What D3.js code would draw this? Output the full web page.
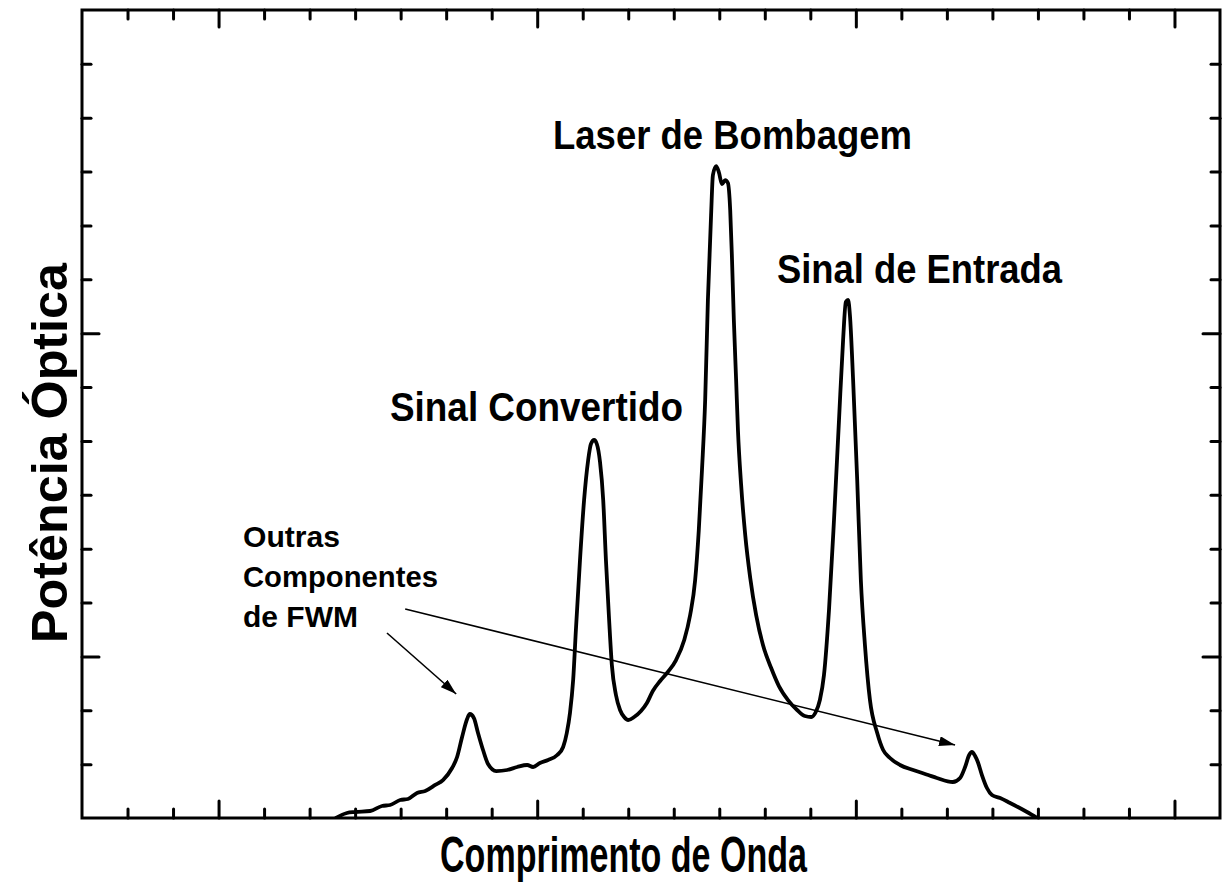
<!DOCTYPE html>
<html>
<head>
<meta charset="utf-8">
<script src="https://cdn.jsdelivr.net/npm/d3@7"></script>
<style>
  html, body { margin: 0; padding: 0; background: #fff; }
  svg { display: block; }
  text { font-family: "Liberation Sans", Arial, sans-serif; font-weight: bold; fill: #000; }
</style>
</head>
<body>
<svg id="chart" width="1223" height="895"></svg>
<script>
// Optical spectrum at the output of the FWM wavelength converter (arbitrary units)
const wavelength = [
  1545.58, 1545.82, 1546.00, 1546.33, 1546.59, 1546.77, 1546.99, 1547.16, 1547.36, 1547.54,
  1547.76, 1547.93, 1548.13, 1548.24, 1548.35, 1548.46, 1548.52, 1548.61, 1548.70, 1548.81,
  1548.92, 1549.10, 1549.34, 1549.56, 1549.78, 1549.91, 1550.06, 1550.24, 1550.44, 1550.57,
  1550.65, 1550.72, 1550.79, 1550.85, 1550.94, 1551.03, 1551.12, 1551.18, 1551.25, 1551.31,
  1551.38, 1551.45, 1551.51, 1551.58, 1551.64, 1551.73, 1551.82, 1551.91, 1552.00, 1552.13,
  1552.28, 1552.41, 1552.54, 1552.70, 1552.87, 1553.05, 1553.23, 1553.36, 1553.47, 1553.55,
  1553.62, 1553.69, 1553.75, 1553.82, 1553.86, 1553.93, 1553.99, 1554.06, 1554.13, 1554.19,
  1554.24, 1554.28, 1554.32, 1554.37, 1554.41, 1554.48, 1554.57, 1554.68, 1554.81, 1554.96,
  1555.14, 1555.31, 1555.51, 1555.71, 1555.88, 1556.02, 1556.12, 1556.21, 1556.30, 1556.41,
  1556.52, 1556.63, 1556.72, 1556.78, 1556.83, 1556.87, 1556.94, 1557.03, 1557.11, 1557.20,
  1557.31, 1557.47, 1557.60, 1557.75, 1557.97, 1558.26, 1558.59, 1558.78, 1559.13, 1559.29,
  1559.40, 1559.49, 1559.55, 1559.62, 1559.68, 1559.77, 1559.88, 1559.99, 1560.17, 1560.39,
  1560.56, 1560.76, 1560.98
];
const power = [
  0.000, 0.093, 0.111, 0.130, 0.223, 0.241, 0.334, 0.353, 0.464, 0.501,
  0.613, 0.705, 0.928, 1.132, 1.504, 1.838, 1.931, 1.856, 1.578, 1.262,
  1.002, 0.872, 0.891, 0.947, 0.984, 0.947, 1.021, 1.077, 1.169, 1.318,
  1.578, 1.949, 2.562, 3.490, 4.789, 5.903, 6.646, 6.943, 7.017, 6.943,
  6.608, 5.903, 4.789, 3.676, 2.840, 2.283, 2.005, 1.875, 1.819, 1.875,
  1.986, 2.135, 2.358, 2.543, 2.710, 2.933, 3.304, 3.768, 4.418, 5.346,
  6.460, 7.759, 9.616, 11.194, 11.936, 12.103, 11.992, 11.769, 11.843, 11.788,
  11.286, 10.358, 9.244, 8.131, 7.202, 6.182, 5.253, 4.455, 3.768, 3.211,
  2.784, 2.450, 2.190, 2.005, 1.893, 1.875, 1.968, 2.190, 2.655, 3.861,
  5.532, 7.388, 8.873, 9.579, 9.616, 9.337, 8.131, 6.274, 4.418, 3.211,
  2.190, 1.578, 1.262, 1.114, 0.984, 0.891, 0.798, 0.743, 0.668, 0.743,
  0.947, 1.169, 1.225, 1.151, 1.040, 0.798, 0.557, 0.427, 0.371, 0.278,
  0.204, 0.111, 0.000
];

// Axis ranges and tick positions (no numeric labels are shown)
const xDomain = [1540, 1565];
const yDomain = [0, 15];
const xMinorTicks = d3.range(1541, 1565, 1);
const xMajorTicks = [1543, 1550, 1557, 1564];
const yMinorTicks = d3.range(1, 15, 1);
const yMajorTicks = [3, 9];

// Peak labels
const peakLabels = ["Laser de Bombagem", "Sinal de Entrada", "Sinal Convertido"];
const fwmLabelLines = ["Outras", "Componentes", "de FWM"];
const xTitle = "Comprimento de Onda";
const yTitle = "Potência Óptica";

const svg = d3.select("#chart");
const W = 1223, H = 895;
const m = { left: 82, right: 3, top: 10, bottom: 77 };
const plotW = W - m.left - m.right;
const plotH = H - m.top - m.bottom;

const x = d3.scaleLinear().domain(xDomain).range([m.left, m.left + plotW]);
const y = d3.scaleLinear().domain(yDomain).range([m.top + plotH, m.top]);

svg.append("rect").attr("width", W).attr("height", H).attr("fill", "#fff");

// clip the spectrum to the frame
svg.append("defs").append("clipPath").attr("id", "plot-clip")
  .append("rect").attr("x", m.left).attr("y", m.top).attr("width", plotW).attr("height", plotH);

// arrow head marker
svg.select("defs").append("marker")
  .attr("id", "arrowhead")
  .attr("viewBox", "0 0 16 10")
  .attr("refX", 16).attr("refY", 5)
  .attr("markerWidth", 16).attr("markerHeight", 10)
  .attr("markerUnits", "userSpaceOnUse")
  .attr("orient", "auto")
  .append("path").attr("d", "M0,0 L16,5 L0,10 Z").attr("fill", "#000");

// spectrum
const pts = wavelength.map((w, i) => [w, power[i]]);
const line = d3.line().x(d => x(d[0])).y(d => y(d[1])).curve(d3.curveMonotoneX);
svg.append("path")
  .attr("clip-path", "url(#plot-clip)")
  .attr("d", line(pts))
  .attr("fill", "none").attr("stroke", "#000")
  .attr("stroke-width", 3.8).attr("stroke-linejoin", "round").attr("stroke-linecap", "round");

// ticks on all four sides, pointing inward
function drawTicks(axisGen, tx, ty) {
  const g = svg.append("g").attr("transform", `translate(${tx},${ty})`).call(axisGen);
  g.select(".domain").remove();
  g.selectAll(".tick line").attr("stroke", "#000").attr("stroke-width", 3).attr("stroke-linecap", "round");
  g.selectAll(".tick text").remove();
}
const minorLen = 9, majorLen = 17;
const xMinorOnly = xMinorTicks.filter(v => !xMajorTicks.includes(v));
const yMinorOnly = yMinorTicks.filter(v => !yMajorTicks.includes(v));
drawTicks(d3.axisBottom(x).tickValues(xMinorOnly).tickSize(-minorLen).tickFormat(""), 0, m.top + plotH);
drawTicks(d3.axisBottom(x).tickValues(xMajorTicks).tickSize(-majorLen).tickFormat(""), 0, m.top + plotH);
drawTicks(d3.axisTop(x).tickValues(xMinorOnly).tickSize(-minorLen).tickFormat(""), 0, m.top);
drawTicks(d3.axisTop(x).tickValues(xMajorTicks).tickSize(-majorLen).tickFormat(""), 0, m.top);
drawTicks(d3.axisLeft(y).tickValues(yMinorOnly).tickSize(-minorLen).tickFormat(""), m.left, 0);
drawTicks(d3.axisLeft(y).tickValues(yMajorTicks).tickSize(-majorLen).tickFormat(""), m.left, 0);
drawTicks(d3.axisRight(y).tickValues(yMinorOnly).tickSize(-minorLen).tickFormat(""), m.left + plotW, 0);
drawTicks(d3.axisRight(y).tickValues(yMajorTicks).tickSize(-majorLen).tickFormat(""), m.left + plotW, 0);

// frame
svg.append("rect")
  .attr("x", m.left).attr("y", m.top).attr("width", plotW).attr("height", plotH)
  .attr("fill", "none").attr("stroke", "#000").attr("stroke-width", 3);

// axis titles
svg.append("text")
  .attr("x", 440).attr("y", 872)
  .attr("font-size", 50)
  .attr("textLength", 367).attr("lengthAdjust", "spacingAndGlyphs")
  .text(xTitle);

svg.append("text")
  .attr("transform", "translate(67,453) rotate(-90)")
  .attr("text-anchor", "middle")
  .attr("font-size", 50)
  .attr("textLength", 380).attr("lengthAdjust", "spacingAndGlyphs")
  .text(yTitle);

// peak labels
const peakLabelLayout = [
  { x: 553, y: 149, w: 359 },
  { x: 777, y: 283, w: 285 },
  { x: 390, y: 421, w: 293 }
];
peakLabels.forEach((t, i) => {
  const p = peakLabelLayout[i];
  svg.append("text")
    .attr("x", p.x).attr("y", p.y)
    .attr("font-size", 40)
    .attr("textLength", p.w).attr("lengthAdjust", "spacingAndGlyphs")
    .text(t);
});

// FWM annotation
const fwmWidths = [97, 195, 115];
fwmLabelLines.forEach((t, i) => {
  svg.append("text")
    .attr("x", 243).attr("y", 547 + i * 40)
    .attr("font-size", 30)
    .attr("textLength", fwmWidths[i]).attr("lengthAdjust", "spacingAndGlyphs")
    .text(t);
});

// arrows to the side FWM products
const arrows = [
  { from: [1546.70, 3.434], to: [1548.22, 2.302] },
  { from: [1547.10, 3.880], to: [1559.18, 1.355] }
];
arrows.forEach(a => {
  svg.append("line")
    .attr("x1", x(a.from[0])).attr("y1", y(a.from[1]))
    .attr("x2", x(a.to[0])).attr("y2", y(a.to[1]))
    .attr("stroke", "#000").attr("stroke-width", 1.6)
    .attr("marker-end", "url(#arrowhead)");
});
</script>
</body>
</html>
